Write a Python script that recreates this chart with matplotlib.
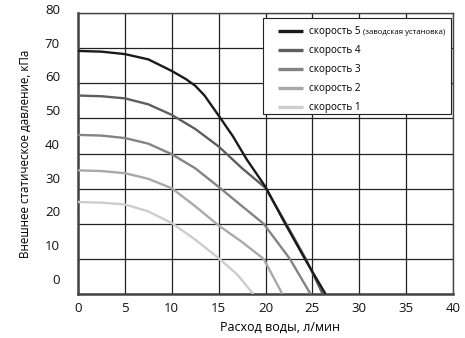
import matplotlib
matplotlib.use("Agg")
import matplotlib.pyplot as plt
import matplotlib.transforms as mtransforms
from matplotlib.patches import Rectangle

plt.rcParams['font.family'] = ['Open Sans', 'DejaVu Sans']

# Data
speed5_x = [0, 2.5, 5, 7.5, 10, 11.5, 12.5, 13.5, 15, 16.5, 18, 20, 22, 24.2, 26.4]
speed5_y = [69.2, 69.0, 68.3, 66.8, 63.5, 61.2, 59.3, 56.5, 50.8, 45, 38.3, 30.5, 20.5, 10, 0]
speed4_x = [0, 2.5, 5, 7.5, 10, 12.5, 15, 17.5, 20, 22.2, 24.3, 26.1]
speed4_y = [56.5, 56.3, 55.7, 54, 51, 47, 42, 35.8, 30.2, 20, 10, 0]
speed3_x = [0, 2.5, 5, 7.5, 10, 12.5, 15, 17.5, 19.8, 22.6, 24.8]
speed3_y = [45.3, 45.1, 44.4, 42.8, 39.8, 35.8, 30.5, 25, 20, 10, 0]
speed2_x = [0, 2.5, 5, 7.5, 10, 12.5, 15, 17.5, 19.8, 21.8]
speed2_y = [35.2, 35, 34.4, 32.8, 30.1, 25, 19.5, 14.8, 10, 0]
speed1_x = [0, 2.5, 5, 7.5, 10, 12.5, 15, 17, 18.7]
speed1_y = [26.2, 26, 25.5, 23.5, 20.2, 15.5, 10.2, 5.5, 0]

labels = ["скорость 5", "скорость 4", "скорость 3", "скорость 2", "скорость 1"]
note5 = "(заводская установка)"
colors = ["#1a1a1a", "#5e5e5e", "#848484", "#a9a9a9", "#cdcdcd"]
xticks = [0, 5, 10, 15, 20, 25, 30, 35, 40]
yticks = [0, 10, 20, 30, 40, 50, 60, 70, 80]
xlabel = "Расход воды, л/мин"
ylabel = "Внешнее статическое давление, кПа"

W, H = 465, 338
fig = plt.figure(figsize=(W/100, H/100), dpi=100)
ax = fig.add_axes([78/W, 1-294/H, (453-78)/W, (294-13)/H])

series = [(speed5_x, speed5_y), (speed4_x, speed4_y), (speed3_x, speed3_y),
          (speed2_x, speed2_y), (speed1_x, speed1_y)]
handles = []
for i, ((xs, ys), lab, c) in enumerate(zip(series, labels, colors)):
    ln, = ax.plot(xs, ys, color=c, lw=1.7, label=lab, solid_capstyle='butt',
                  solid_joinstyle='round', zorder=8 - i)
    handles.append(ln)

ax.set_xlim(0, 40)
ax.set_ylim(0, 80)
ax.set_xticks(xticks)
ax.set_yticks(yticks)
ax.grid(True, color="#222222", lw=0.9)
ax.set_axisbelow(True)
ax.tick_params(length=0, labelsize=9.5, colors="#111111")
ax.tick_params(axis='x', pad=6)
ax.tick_params(axis='y', pad=13)
for s in ax.spines.values():
    s.set_color("#444444")
    s.set_linewidth(1.0)
ax.spines['left'].set_linewidth(1.8)
ax.spines['bottom'].set_linewidth(1.8)

ax.set_xlabel(xlabel, fontsize=9, labelpad=5)
ax.xaxis.set_label_coords(0.54, -0.095)
ax.set_ylabel(ylabel, fontsize=8.4, labelpad=9)

# y tick labels sit slightly above gridlines in reference
for v, t in zip(yticks, ax.get_yticklabels()):
    off = (3 + (80 - v) / 80 * 8) / 72.0
    t.set_transform(t.get_transform() + mtransforms.ScaledTranslation(0, off, fig.dpi_scale_trans))

# legend frame (drawn separately so the note fits inside)
frame = Rectangle((263/W, 1-114/H), (451-263)/W, (114-18)/H, transform=fig.transFigure,
                  facecolor="white", edgecolor="#222222", lw=0.8, zorder=10)
fig.add_artist(frame)

leg = ax.legend(handles=handles, loc='upper left', bbox_to_anchor=(278/W, 1-26/H),
                bbox_transform=fig.transFigure, fontsize=7.2, frameon=False,
                handlelength=2.5, handletextpad=0.6, labelspacing=0.8,
                borderpad=0, borderaxespad=0)
for h in leg.get_lines():
    h.set_linewidth(2.4)
leg.remove()
fig.add_artist(leg)
leg.set_zorder(11)

fig.canvas.draw()
t0 = leg.get_texts()[0]
bb = t0.get_window_extent()
inv = fig.transFigure.inverted()
x0, y0 = inv.transform((bb.x1 + 2, (bb.y0 + bb.y1) / 2 - 0.5))
fig.text(x0, y0, note5, fontsize=5.6, va='center', ha='left', zorder=12,
         family=['Liberation Sans Narrow', 'Open Sans', 'DejaVu Sans'])

fig.savefig("out.png", dpi=100)
